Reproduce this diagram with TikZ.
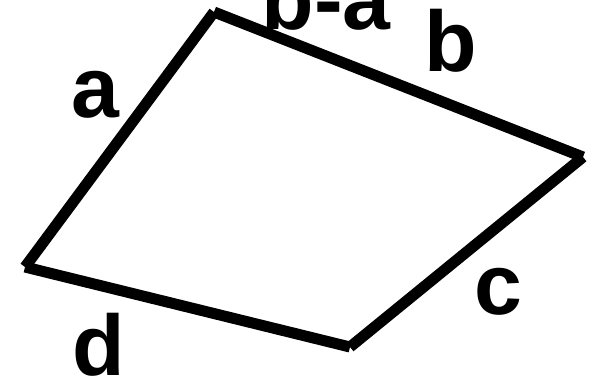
\documentclass[tikz,border=0pt]{standalone}
\usepackage{fontspec}
\setmainfont{Liberation Sans}
\begin{document}
\begin{tikzpicture}[x=1bp,y=-1bp]
\tikzset{side/.style={line width=11bp},
         lbl/.style={font=\bfseries\fontsize{86bp}{90bp}\selectfont,inner sep=0pt,anchor=base}}
\useasboundingbox (0,0) rectangle (592,375);
\clip (0,0) rectangle (592,375);

% corners of the quadrilateral
\coordinate (top) at (214,12);
\coordinate (right) at (583,157);
\coordinate (bottom) at (350,347);
\coordinate (left) at (25,267);

% the four sides
\draw[side] (left) -- (top);
\draw[side] (top) -- (right);
\draw[side] (right) -- (bottom);
\draw[side] (bottom) -- (left);

% side labels
\node[lbl] (lbla) at (95,117) {a};
\node[lbl] (lblba) at (326,29) {b-a};
\node[lbl] (lblb) at (451,71) {b};
\node[lbl] (lblc) at (498,314) {c};
\node[lbl] (lbld) at (99,375) {d};
\end{tikzpicture}
\end{document}
